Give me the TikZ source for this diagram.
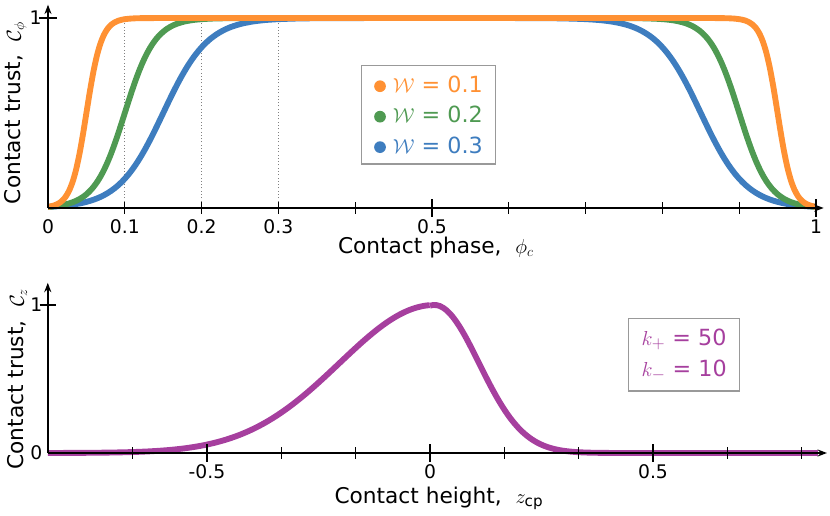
\documentclass[tikz,border=0pt]{standalone}
\usepackage{amsmath}
\usepackage{fontspec}
\setmainfont{DejaVu Sans}
\usetikzlibrary{arrows.meta}
\definecolor{corange}{HTML}{FF9133}
\definecolor{cgreen}{HTML}{4F9A52}
\definecolor{cblue}{HTML}{3E7DBF}
\definecolor{cpurple}{HTML}{A63F9E}
\newcommand{\legdot}{\tikz[baseline=-0.5ex]\fill circle (5pt);}
\tikzset{
  axis/.style={line width=1.8pt, -{Stealth[length=8pt,width=6pt]}},
  curve/.style={line width=5pt},
  ticklab/.style={font=\fontsize{16}{18}\selectfont},
  axlab/.style={font=\fontsize{18.5}{22}\selectfont},
  legbox/.style={draw=gray!80, line width=1.2pt, inner xsep=11pt, inner ysep=9pt, fill=white,
    font=\fontsize{19}{26}\selectfont},
}
\begin{document}
\begin{tikzpicture}
  \useasboundingbox (0,0) rectangle (24.9,-15.48);

  % Top plot: contact phase
  \begin{scope}[shift={(1.44,-6.24)}, x=23.04cm, y=5.7cm]
    \coordinate (o1) at (0,0);
    \coordinate (xe1) at (1.01,0);
    \coordinate (ye1) at (0,1.07);
    % dotted guides
    \foreach \w in {0.1,0.2,0.3}
      \draw[dotted, gray, line width=0.8pt] (\w,0) -- (\w,1);
    % curves
    \foreach \w/\c in {0.3/cblue,0.2/cgreen,0.1/corange}
      \draw[curve, \c, samples=220, domain=0:1, smooth]
        plot (\x, {1/(1+exp(min(9,-1.702*(\x-\w/2)/(\w/6))))*1/(1+exp(min(9,-1.702*(1-\x-\w/2)/(\w/6))))});
    % axes
    \draw[axis] (o1) -- (xe1);
    \draw[axis] (o1) -- (ye1);
    \foreach \t in {0.1,0.2,...,0.9}
      \draw[line width=1pt] (\t,-0.03) -- (\t,0.03);
    \draw[line width=1.6pt] (0.5,-0.045) -- (0.5,0.045);
    \draw[line width=1.6pt] (1,-0.045) -- (1,0.045);
    \draw[line width=1.6pt] (-0.012,1) -- (0.012,1);
    \foreach \t/\l in {0/0,0.1/0.1,0.2/0.2,0.3/0.3,0.5/0.5,1/1}
      \node[ticklab, anchor=north] (tx\l) at (\t,-0.04) {\l};
    \node[ticklab, anchor=east] (ty1) at (-0.003,1) {1};
    \node[axlab, anchor=north] (xlab1) at (0.505,-0.13) {Contact phase,\ \ $\phi_c$};
    \node[axlab, rotate=90] (ylab1) at (-0.042,0.5) {Contact trust,\ \ $\mathcal{C}_\phi$};
    % legend
    \node[legbox, anchor=north west, align=left] (leg1) at (0.407,0.755) {%
      \textcolor{corange}{\legdot\ $\mathcal{W}$ = 0.1}\\
      \textcolor{cgreen}{\legdot\ $\mathcal{W}$ = 0.2}\\
      \textcolor{cblue}{\legdot\ $\mathcal{W}$ = 0.3}};
  \end{scope}

  % Bottom plot: contact height
  \begin{scope}[shift={(12.9,-13.59)}, x=13.38cm, y=4.44cm]
    \coordinate (o2) at (-0.857,0);
    \coordinate (xe2) at (0.89,0);
    \coordinate (ye2) at (-0.857,1.15);
    \draw[curve, cpurple, samples=200, domain=-0.857:0, smooth]
      plot (\x, {exp(-11*(\x-0.01)*(\x-0.01))});
    \draw[curve, cpurple, samples=120, domain=0:0.87, smooth]
      plot (\x, {exp(-min(50*(\x-0.01)*(\x-0.01),12))});
    \draw[axis] (o2) -- (xe2);
    \draw[axis] (o2) -- (ye2);
    \foreach \t in {-4,-3,-2,-1,1,2,4,5}
      \draw[line width=1pt] (\t/6,-0.04) -- (\t/6,0.04);
    \foreach \t in {-0.5,0,0.5}
      \draw[line width=1.6pt] (\t,-0.06) -- (\t,0.06);
    \draw[line width=1.6pt] (-0.875,1) -- (-0.839,1);
    \foreach \t/\l in {-0.5/-0.5,0/0,0.5/0.5}
      \node[ticklab, anchor=north] (tz\l) at (\t,-0.05) {\l};
    \node[ticklab, anchor=east] (tc0) at (-0.86,0) {0};
    \node[ticklab, anchor=east] (tc1) at (-0.86,1) {1};
    \node[axlab, anchor=north] (xlab2) at (0.02,-0.2) {Contact height,\ \ $z_{\mathrm{cp}}$};
    \node[axlab, rotate=90] (ylab2) at (-0.925,0.5) {Contact trust,\ \ $\mathcal{C}_z$};
    \node[legbox, anchor=north west, align=left, text=cpurple] (leg2) at (0.444,0.913) {%
      $k_+$ = 50\\ $k_-$ = 10};
  \end{scope}
\end{tikzpicture}
\end{document}
